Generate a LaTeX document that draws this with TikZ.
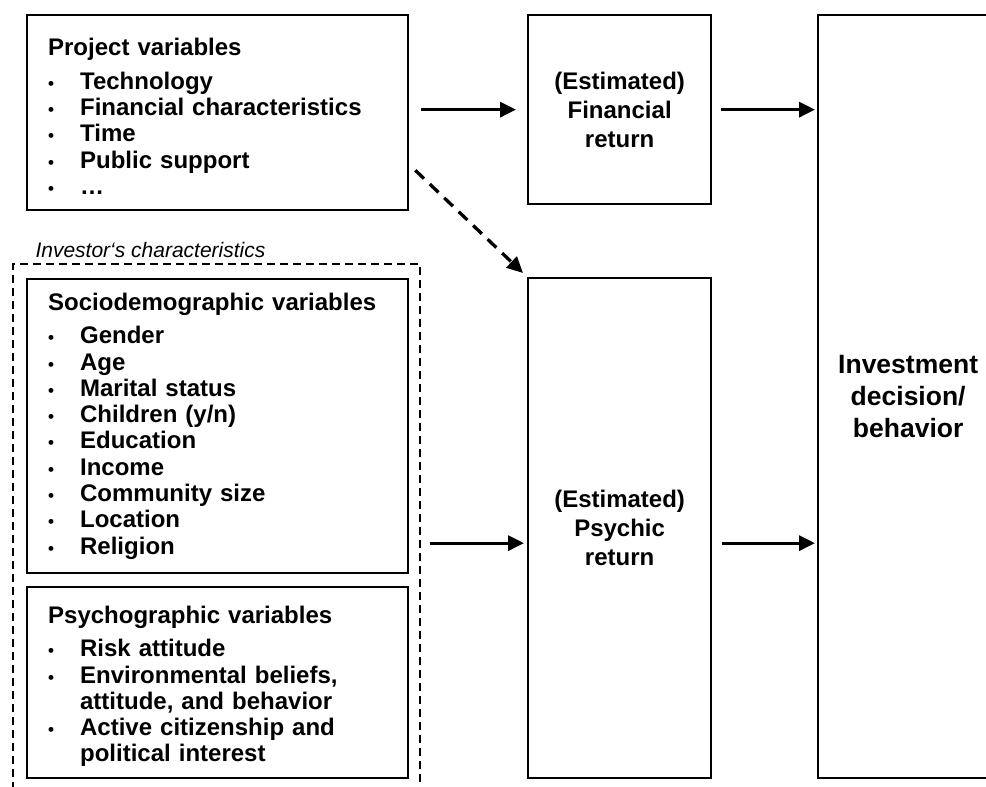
\documentclass[tikz,border=0pt]{standalone}
\usepackage{fontspec}
\setmainfont{Liberation Sans}
\usetikzlibrary{arrows.meta}
\newcommand{\bul}{\makebox[32pt][l]{\fontsize{17}{17}\selectfont\textbullet}}

\begin{document}
\begin{tikzpicture}[x=1pt,y=-1pt,
  varbox/.style={draw,line width=2.3pt,anchor=north west,text width=339pt,inner xsep=21pt,align=left,font=\bfseries\fontsize{24}{26.3}\selectfont},
  retbox/.style={draw,line width=2.3pt,anchor=north west,minimum width=183pt,align=center,font=\bfseries\fontsize{24}{29}\selectfont},
  arr/.style={line width=3.3pt,-{Triangle[length=16pt,width=15pt]}}]
  \useasboundingbox (0,0) rectangle (986,787);
  \clip (0,0) rectangle (986,787);
  \node[varbox,minimum height=195pt] (proj) at (26,14) {\rule{0pt}{25pt}Project variables\\[7pt]
    \bul Technology\\ \bul Financial characteristics\\ \bul Time\\ \bul Public support\\ \bul …};
  \node[draw,line width=1.6pt,dash pattern=on 8pt off 5pt,anchor=north west,minimum width=407pt,minimum height=540pt] (investor) at (12,263) {};
  \node[anchor=base west,font=\itshape\fontsize{21}{21}\selectfont] (invlabel) at ([shift={(20pt,6pt)}]investor.north west) {Investor‘s characteristics};
  \node[varbox,minimum height=294pt] (socio) at (26,278) {Sociodemographic variables\\[7pt]
    \bul Gender\\ \bul Age\\ \bul Marital status\\ \bul Children (y/n)\\ \bul Education\\
    \bul Income\\ \bul Community size\\ \bul Location\\ \bul Religion};
  \node[varbox,minimum height=191pt] (psycho) at (26,586) {\rule{0pt}{25pt}Psychographic variables\\[7pt]
    \bul Risk attitude\\ \bul Environmental beliefs,\\ \hspace*{32pt}attitude, and behavior\\
    \bul Active citizenship and\\ \hspace*{32pt}political interest};
  \node[retbox,minimum height=189pt] (fin) at (527,14) {(Estimated)\\ Financial\\ return};
  \node[retbox,minimum height=500pt] (psy) at (527,277) {(Estimated)\\ Psychic\\ return};
  \node[draw,line width=2.3pt,anchor=north west,minimum width=180pt,minimum height=763pt,align=center,font=\bfseries\fontsize{26.5}{32}\selectfont] (dec) at (817,14) {Investment\\ decision/\\ behavior};
  \draw[arr,shorten <=12pt,shorten >=11pt] (proj.east |- fin.west) -- (fin.west);
  \draw[arr,shorten <=9pt,shorten >=2pt] (fin.east) -- (fin.east -| dec.west);
  \draw[arr,dash pattern=on 12pt off 8pt] ([shift={(6pt,41pt)}]proj.south east) -- ([shift={(-4pt,4pt)}]psy.north west);
  \draw[arr,shorten <=9pt,shorten >=3pt] ([yshift=-15pt]psy.west -| investor.east) -- ([yshift=-15pt]psy.west);
  \draw[arr,shorten <=10pt,shorten >=2pt] ([yshift=-15pt]psy.east) -- ([yshift=-15pt]psy.east -| dec.west);
\end{tikzpicture}
\end{document}
